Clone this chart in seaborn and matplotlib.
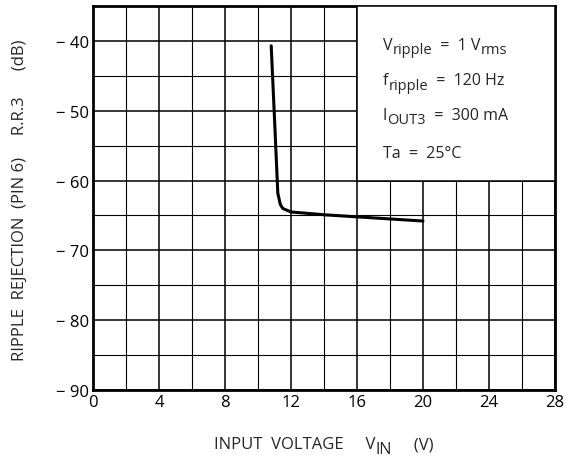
import matplotlib
matplotlib.use("Agg")
import matplotlib.pyplot as plt
import matplotlib.patches as mpatches
import matplotlib.transforms as mtransforms
import seaborn as sns
import pandas as pd
import numpy as np

# Data
vin = [10.8, 11.0, 11.2, 11.35, 11.5, 12.0, 13.0, 14.0, 16.0, 18.0, 20.0]
rr3 = [-40.7, -51.1, -61.8, -63.4, -64.0, -64.5, -64.7, -64.9, -65.2, -65.5, -65.8]
x_ticks = [0, 4, 8, 12, 16, 20, 24, 28]
y_ticks = [-90, -80, -70, -60, -50, -40]
y_tick_labels = ["\u2212 90", "\u2212 80", "\u2212 70", "\u2212 60", "\u2212 50", "\u2212 40"]
conditions = [
    [("V", False), ("ripple", True), ("  =  1 V", False), ("rms", True)],
    [("f", False), ("ripple", True), ("  =  120 Hz", False)],
    [("I", False), ("OUT3", True), ("  =  300 mA", False)],
    [("Ta  =  25\u00b0C", False)],
]
x_label = [("INPUT  VOLTAGE     V", False), ("IN", True), ("     (V)", False)]
y_label = "RIPPLE  REJECTION  (PIN 6)     R.R.3      (dB)"

sns.set_style("white")
plt.rcParams["font.family"] = ["Open Sans", "DejaVu Sans"]

fig = plt.figure(figsize=(5.73, 4.60), dpi=100)
ax = fig.add_axes([93 / 573, 1 - 391 / 460, (555 - 93) / 573, (391 - 7) / 460])

df = pd.DataFrame({"vin": vin, "rr3": rr3})
sns.lineplot(data=df, x="vin", y="rr3", ax=ax, color="black", linewidth=2.2, zorder=5)

ax.set_xlim(0, 28)
ax.set_ylim(-90, -35)
ax.set_xticks(x_ticks)
ax.set_yticks(y_ticks)
ax.set_yticklabels(y_tick_labels)
ax.set_xticks(np.arange(0, 29, 2), minor=True)
ax.set_yticks(np.arange(-90, -34, 5), minor=True)
ax.grid(True, which="major", color="black", linewidth=1.1, zorder=1)
ax.grid(True, which="minor", color="black", linewidth=0.8, zorder=1)
ax.tick_params(which="both", length=0, labelsize=12, colors="black", pad=3)
ax.set_xlabel("")
ax.set_ylabel("")
for s in ax.spines.values():
    s.set_visible(True)
    s.set_color("black")
    s.set_linewidth(2)

ax.add_patch(mpatches.Rectangle((16, -60), 12, 25, facecolor="white", edgecolor="black",
                                linewidth=1.1, zorder=3))

renderer = fig.canvas.get_renderer()


def rich_text(x_px, y_px, segments, size=11.5, sub_size=10.5, sub_drop=4.5, center=False):
    """Draw text with subscripts at pixel position (baseline at y_px, from top)."""
    items = []
    total = 0.0
    for txt, sub in segments:
        t = fig.text(0, 0, txt, fontsize=sub_size if sub else size, va="baseline", ha="left")
        w = t.get_window_extent(renderer).width
        items.append((t, sub, w))
        total += w
    x = x_px - (total / 2 if center else 0)
    for t, sub, w in items:
        t.set_transform(mtransforms.Affine2D().translate(x, fig.bbox.height - y_px + (-sub_drop if sub else 0)))
        t.set_position((0, 0))
        x += w


rows_y = [50, 85, 120, 158]
for segs, y in zip(conditions, rows_y):
    rich_text(383, y, segs)

rich_text(324, 449, x_label, size=12, sub_size=11.5, center=True)
fig.text(20 / 573, 1 - 200 / 460, y_label, rotation=90, fontsize=12, ha="center", va="center")

fig.savefig("out.png", dpi=100)
